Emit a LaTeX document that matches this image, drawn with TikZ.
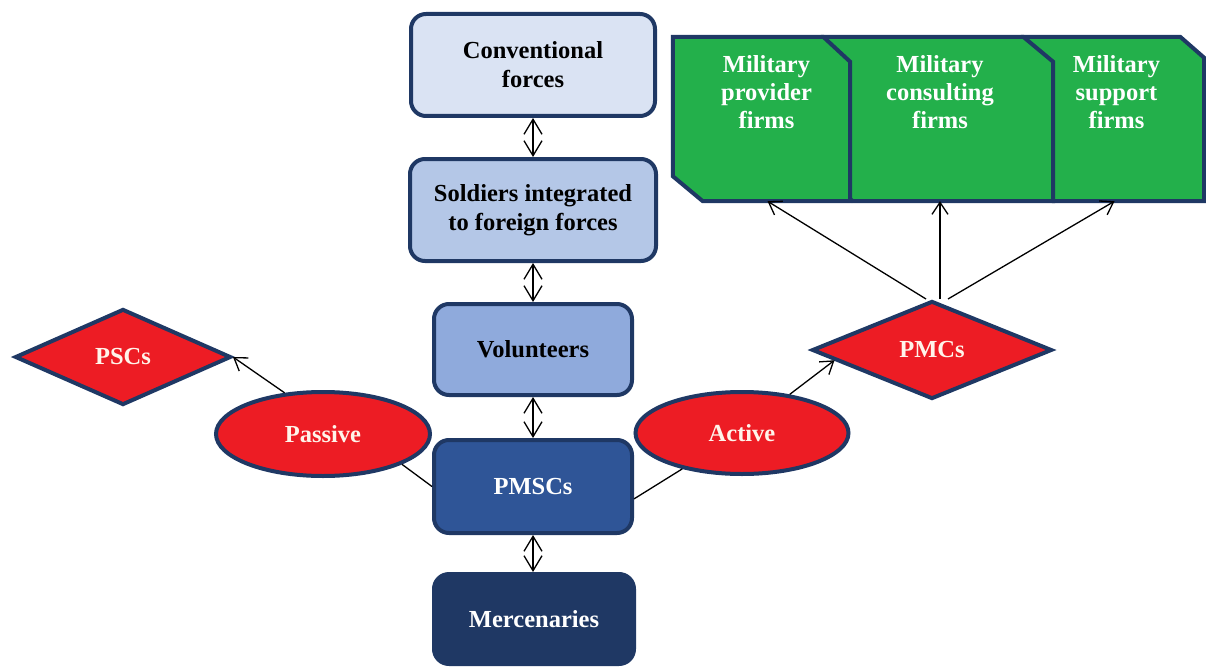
\documentclass[tikz,border=0pt]{standalone}
\usepackage{fontspec}
\setmainfont{Liberation Serif}
\usetikzlibrary{shapes.geometric,arrows.meta}
\definecolor{navy}{HTML}{1F3864}
\definecolor{convfill}{HTML}{DAE3F3}
\definecolor{soldfill}{HTML}{B4C7E7}
\definecolor{volfill}{HTML}{8FAADC}
\definecolor{pmscfill}{HTML}{2F5597}
\definecolor{mercfill}{HTML}{1F3864}
\definecolor{redfill}{HTML}{ED1C24}
\definecolor{greenfill}{HTML}{23B04B}
\definecolor{cream}{HTML}{FFF4EA}
\tikzset{
  lbl/.style={font=\fontsize{24.5}{29}\selectfont\bfseries, align=center},
  bluebox/.style={lbl, draw=navy, line width=4pt, rounded corners=15pt, inner sep=0pt},
  redshape/.style={lbl, draw=navy, line width=4pt, fill=redfill, text=cream, inner sep=0pt},
  greenarea/.style={rectangle, inner sep=0pt, minimum height=164pt},
  greenpoly/.style={draw=navy, line width=4pt, fill=greenfill, line join=miter},
  gtext/.style={font=\fontsize{24.5}{28}\selectfont\bfseries, align=center, text=white, inner sep=0pt, anchor=north},
  dblarrow/.style={line width=1.3pt, {Straight Barb[length=15pt,width=18pt]}-{Straight Barb[length=15pt,width=18pt]}},
  onearrow/.style={line width=1.3pt, -{Straight Barb[length=12pt,width=16pt]}},
  plainline/.style={line width=1.3pt}
}
\newcommand{\snipbox}[3]{% node, xchamfer, ychamfer
  \draw[greenpoly] (#1.north west) -- ([xshift=-#2]#1.north east) -- ([yshift=-#3]#1.north east)
    -- (#1.south east) -- ([xshift=30pt]#1.south west) -- ([yshift=25pt]#1.south west) -- cycle;}
\begin{document}
\begin{tikzpicture}[x=1pt,y=-1pt]
\useasboundingbox (0,0) rectangle (1206,666);
\clip (0,0) rectangle (1206,666);
% central column
\node[bluebox, fill=convfill, minimum width=244pt, minimum height=102pt] (conv) at (533,65) {Conventional\\forces};
\node[bluebox, fill=soldfill, minimum width=246pt, minimum height=102pt] (sold) at (533,210) {Soldiers integrated\\to foreign forces};
\node[bluebox, fill=volfill, minimum width=198pt, minimum height=91pt] (vol) at (533,349.5) {Volunteers};
\node[bluebox, fill=pmscfill, text=white, minimum width=198pt, minimum height=93pt] (pmscs) at (533,486.5) {PMSCs};
\node[bluebox, fill=mercfill, text=white, minimum width=200pt, minimum height=90pt] (merc) at (534,619) {Mercenaries};
% red shapes
\node[redshape, ellipse, minimum width=214pt, minimum height=84pt] (passive) at (323,434) {Passive};
\node[redshape, ellipse, minimum width=213pt, minimum height=82pt] (active) at (742,433) {Active};
\node[redshape, diamond, minimum width=216pt, minimum height=96pt] (pscs) at (123,357) {PSCs};
\node[redshape, diamond, minimum width=240pt, minimum height=98pt] (pmcs) at (932,350) {PMCs};
% green firms
\node[greenarea, minimum width=181pt] (g3) at (1113.5,119) {};
\node[greenarea, minimum width=230pt] (g2) at (938,119) {};
\node[greenarea, minimum width=177pt] (g1) at (761.5,119) {};
\snipbox{g3}{24pt}{21pt}
\snipbox{g2}{30pt}{25pt}
\snipbox{g1}{27pt}{25pt}
\node[gtext] (t1) at ([xshift=5pt,yshift=-19pt]g1.north) {Military\\provider\\firms};
\node[gtext] (t2) at ([xshift=2pt,yshift=-19pt]g2.north) {Military\\consulting\\firms};
\node[gtext] (t3) at ([xshift=3pt,yshift=-19pt]g3.north) {Military\\support\\firms};
% connectors
\draw[dblarrow] (conv.south) -- (sold.north);
\draw[dblarrow] (sold.south) -- (vol.north);
\draw[dblarrow] (vol.south) -- (pmscs.north);
\draw[dblarrow] (pmscs.south) -- (merc.north -| pmscs.south);
\draw[plainline] (pmscs.west) -- (passive.-21);
\draw[onearrow] (passive.133) -- (pscs.east);
\draw[plainline] (pmscs.-7) -- (active.211);
\draw[onearrow] (active.39) -- (pmcs.186);
\draw[onearrow] ([xshift=-6pt]pmcs.north) -- ([xshift=6pt]g1.south);
\draw[onearrow] ([xshift=8pt]pmcs.north) -- ([xshift=2pt]g2.south);
\draw[onearrow] ([xshift=16pt]pmcs.north) -- ([xshift=1pt]g3.south);
\end{tikzpicture}
\end{document}
